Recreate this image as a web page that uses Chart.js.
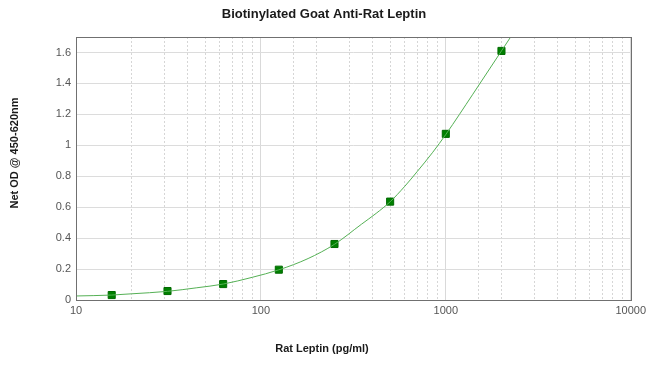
<!DOCTYPE html>
<html>
<head>
<meta charset="utf-8">
<script src="https://cdn.jsdelivr.net/npm/chart.js@4"></script>
<style>
  html, body { margin: 0; padding: 0; background: #fff; }
  #wrap { width: 650px; height: 378px; position: relative; }
</style>
</head>
<body>
<div id="wrap"><canvas id="chart" width="650" height="378"></canvas></div>
<script>
// Standard points (concentration, OD)
const concentrations = [15.6, 31.25, 62.5, 125, 250, 500, 1000, 2000];
const odValues = [0.032, 0.058, 0.103, 0.196, 0.362, 0.636, 1.074, 1.61];

// Fitted curve
const curveX = [10, 15.6, 20, 31.25, 45, 62.5, 90, 125, 180, 250, 350, 420, 500, 600, 700, 850, 1000, 1400, 2000, 2300];
const curveY = [0.026, 0.032, 0.040, 0.056, 0.079, 0.103, 0.147, 0.195, 0.268, 0.36, 0.49, 0.56, 0.635, 0.735, 0.83, 0.955, 1.07, 1.33, 1.61, 1.72];

const yTicks = [0, 0.2, 0.4, 0.6, 0.8, 1, 1.2, 1.4, 1.6];
const xMajorTicks = [10, 100, 1000, 10000];

const titleText = 'Biotinylated Goat Anti-Rat Leptin';
const xTitle = 'Rat Leptin (pg/ml)';
const yTitle = 'Net OD @ 450-620nm';

function isMajor(v) {
    return xMajorTicks.some(m => Math.abs(m - v) < 1e-6);
}

// Titles and plot frame
const decorPlugin = {
    id: 'decor',
    afterDraw(chart) {
        const ctx = chart.ctx;
        const a = chart.chartArea;
        ctx.save();
        ctx.strokeStyle = '#707070';
        ctx.lineWidth = 1;
        ctx.strokeRect(Math.round(a.left) + 0.5, Math.round(a.top) + 0.5,
            Math.round(a.right - a.left), Math.round(a.bottom - a.top));

        ctx.fillStyle = '#1a1a1a';
        ctx.textAlign = 'center';
        ctx.textBaseline = 'middle';
        ctx.font = 'bold 13px "Liberation Sans", Arial, sans-serif';
        ctx.fillText(titleText, 324, 14);

        ctx.font = 'bold 11px "Liberation Sans", Arial, sans-serif';
        ctx.fillText(xTitle, 322, 349);

        ctx.translate(15, 153);
        ctx.rotate(-Math.PI / 2);
        ctx.fillText(yTitle, 0, 0);
        ctx.restore();
    }
};

const chart = new Chart(document.getElementById('chart'), {
    type: 'scatter',
    data: {
        datasets: [
            {
                label: 'curve',
                data: curveX.map((x, i) => ({ x: x, y: curveY[i] })),
                showLine: true,
                borderColor: '#55b055',
                borderWidth: 1,
                pointRadius: 0,
                cubicInterpolationMode: 'monotone',
                fill: false
            },
            {
                label: 'standards',
                data: concentrations.map((x, i) => ({ x: x, y: odValues[i] })),
                showLine: false,
                pointStyle: 'rect',
                pointRadius: 5,
                backgroundColor: '#008000',
                borderColor: '#006a00',
                borderWidth: 1
            }
        ]
    },
    options: {
        responsive: false,
        animation: false,
        events: [],
        layout: { padding: { left: 0, right: 17, top: 37, bottom: 0 } },
        plugins: {
            legend: { display: false },
            tooltip: { enabled: false }
        },
        scales: {
            x: {
                type: 'logarithmic',
                min: 10,
                max: 10000,
                afterFit(scale) { scale.height = 78; },
                grid: {
                    drawTicks: false,
                    color: ctx => isMajor(ctx.tick ? ctx.tick.value : 0) ? '#d9d9d9' : '#d6d6d6'
                },
                border: {
                    display: false,
                    dash: ctx => (ctx.tick && !isMajor(ctx.tick.value)) ? [2, 2] : []
                },
                ticks: {
                    autoSkip: false,
                    maxRotation: 0,
                    padding: 4,
                    color: '#555',
                    font: { family: '"Liberation Sans", Arial, sans-serif', size: 11 },
                    callback: v => isMajor(v) ? String(v) : ''
                }
            },
            y: {
                min: 0,
                max: 1.7,
                afterFit(scale) { scale.width = 76; },
                afterBuildTicks(scale) { scale.ticks = yTicks.map(v => ({ value: v })); },
                grid: { drawTicks: false, color: '#dcdcdc' },
                border: { display: false },
                ticks: {
                    padding: 5,
                    color: '#555',
                    font: { family: '"Liberation Sans", Arial, sans-serif', size: 11 },
                    callback: v => String(+v.toFixed(1))
                }
            }
        }
    },
    plugins: [decorPlugin]
});
</script>
</body>
</html>
